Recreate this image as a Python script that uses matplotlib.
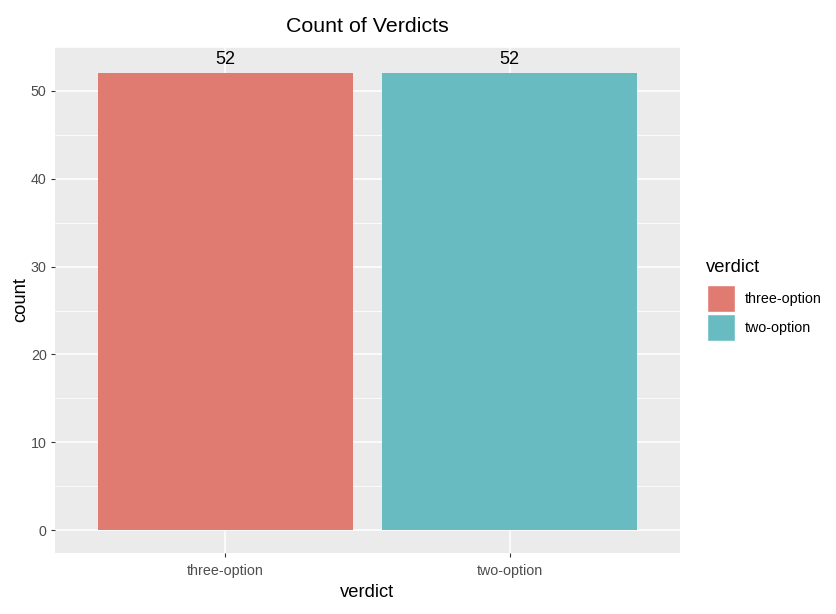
import matplotlib.pyplot as plt
from matplotlib.patches import Rectangle

plt.rcParams["font.family"] = ["Liberation Sans", "DejaVu Sans"]

# data
verdicts = ["three-option", "two-option"]
counts = [52, 52]
colors = ["#E07B72", "#68BBC1"]

W, H = 836, 614
fig = plt.figure(figsize=(W / 100, H / 100), dpi=100)
# panel position in pixels: left 55, right 680, top 47, bottom 553
ax = fig.add_axes([55 / W, 1 - 553 / H, (680 - 55) / W, (553 - 47) / H])
ax.set_facecolor("#EBEBEB")
for s in ax.spines.values():
    s.set_visible(False)

x = list(range(1, len(verdicts) + 1))
ax.bar(x, counts, width=0.9, color=colors, zorder=3)
for xi, c in zip(x, counts):
    ax.text(xi, c + 0.6, str(c), ha="center", va="bottom", fontsize=13, color="black", zorder=4)

ax.set_xlim(0.4, 2.6)
ymax = max(counts)
ax.set_ylim(-0.05 * ymax, 1.05 * ymax)
ax.set_xticks(x)
ax.set_xticklabels(verdicts)
ax.set_yticks(range(0, 51, 10))
ax.set_yticks(range(5, 56, 10), minor=True)
ax.grid(which="major", color="white", linewidth=1.1, zorder=0)
ax.grid(which="minor", axis="y", color="white", linewidth=0.55, zorder=0)
ax.set_axisbelow(True)
ax.tick_params(which="major", length=3, width=0.8, color="#333333",
               labelcolor="#4D4D4D", labelsize=10.3, pad=3)
ax.tick_params(axis="x", pad=5)
ax.tick_params(which="minor", length=0)

ax.set_xlabel("verdict", fontsize=13.2, labelpad=4)
ax.set_ylabel("count", fontsize=13.2, labelpad=1)
ax.set_title("Count of Verdicts", fontsize=15.4, pad=11)

# legend drawn in figure pixels, ggplot style
def fx(px):
    return px / W

def fy(py):
    return 1 - py / H

fig.text(fx(706), fy(268), "verdict", fontsize=13.2, ha="left", va="center")
key_top = 285
for lab, col in zip(verdicts, colors):
    fig.add_artist(Rectangle((fx(707), fy(key_top + 27)), 28 / W, 27 / H,
                             transform=fig.transFigure, facecolor=col,
                             edgecolor="white", linewidth=1))
    fig.text(fx(745), fy(key_top + 14), lab, fontsize=10.3, ha="left", va="center")
    key_top += 29

fig.savefig("out.png", dpi=100)
